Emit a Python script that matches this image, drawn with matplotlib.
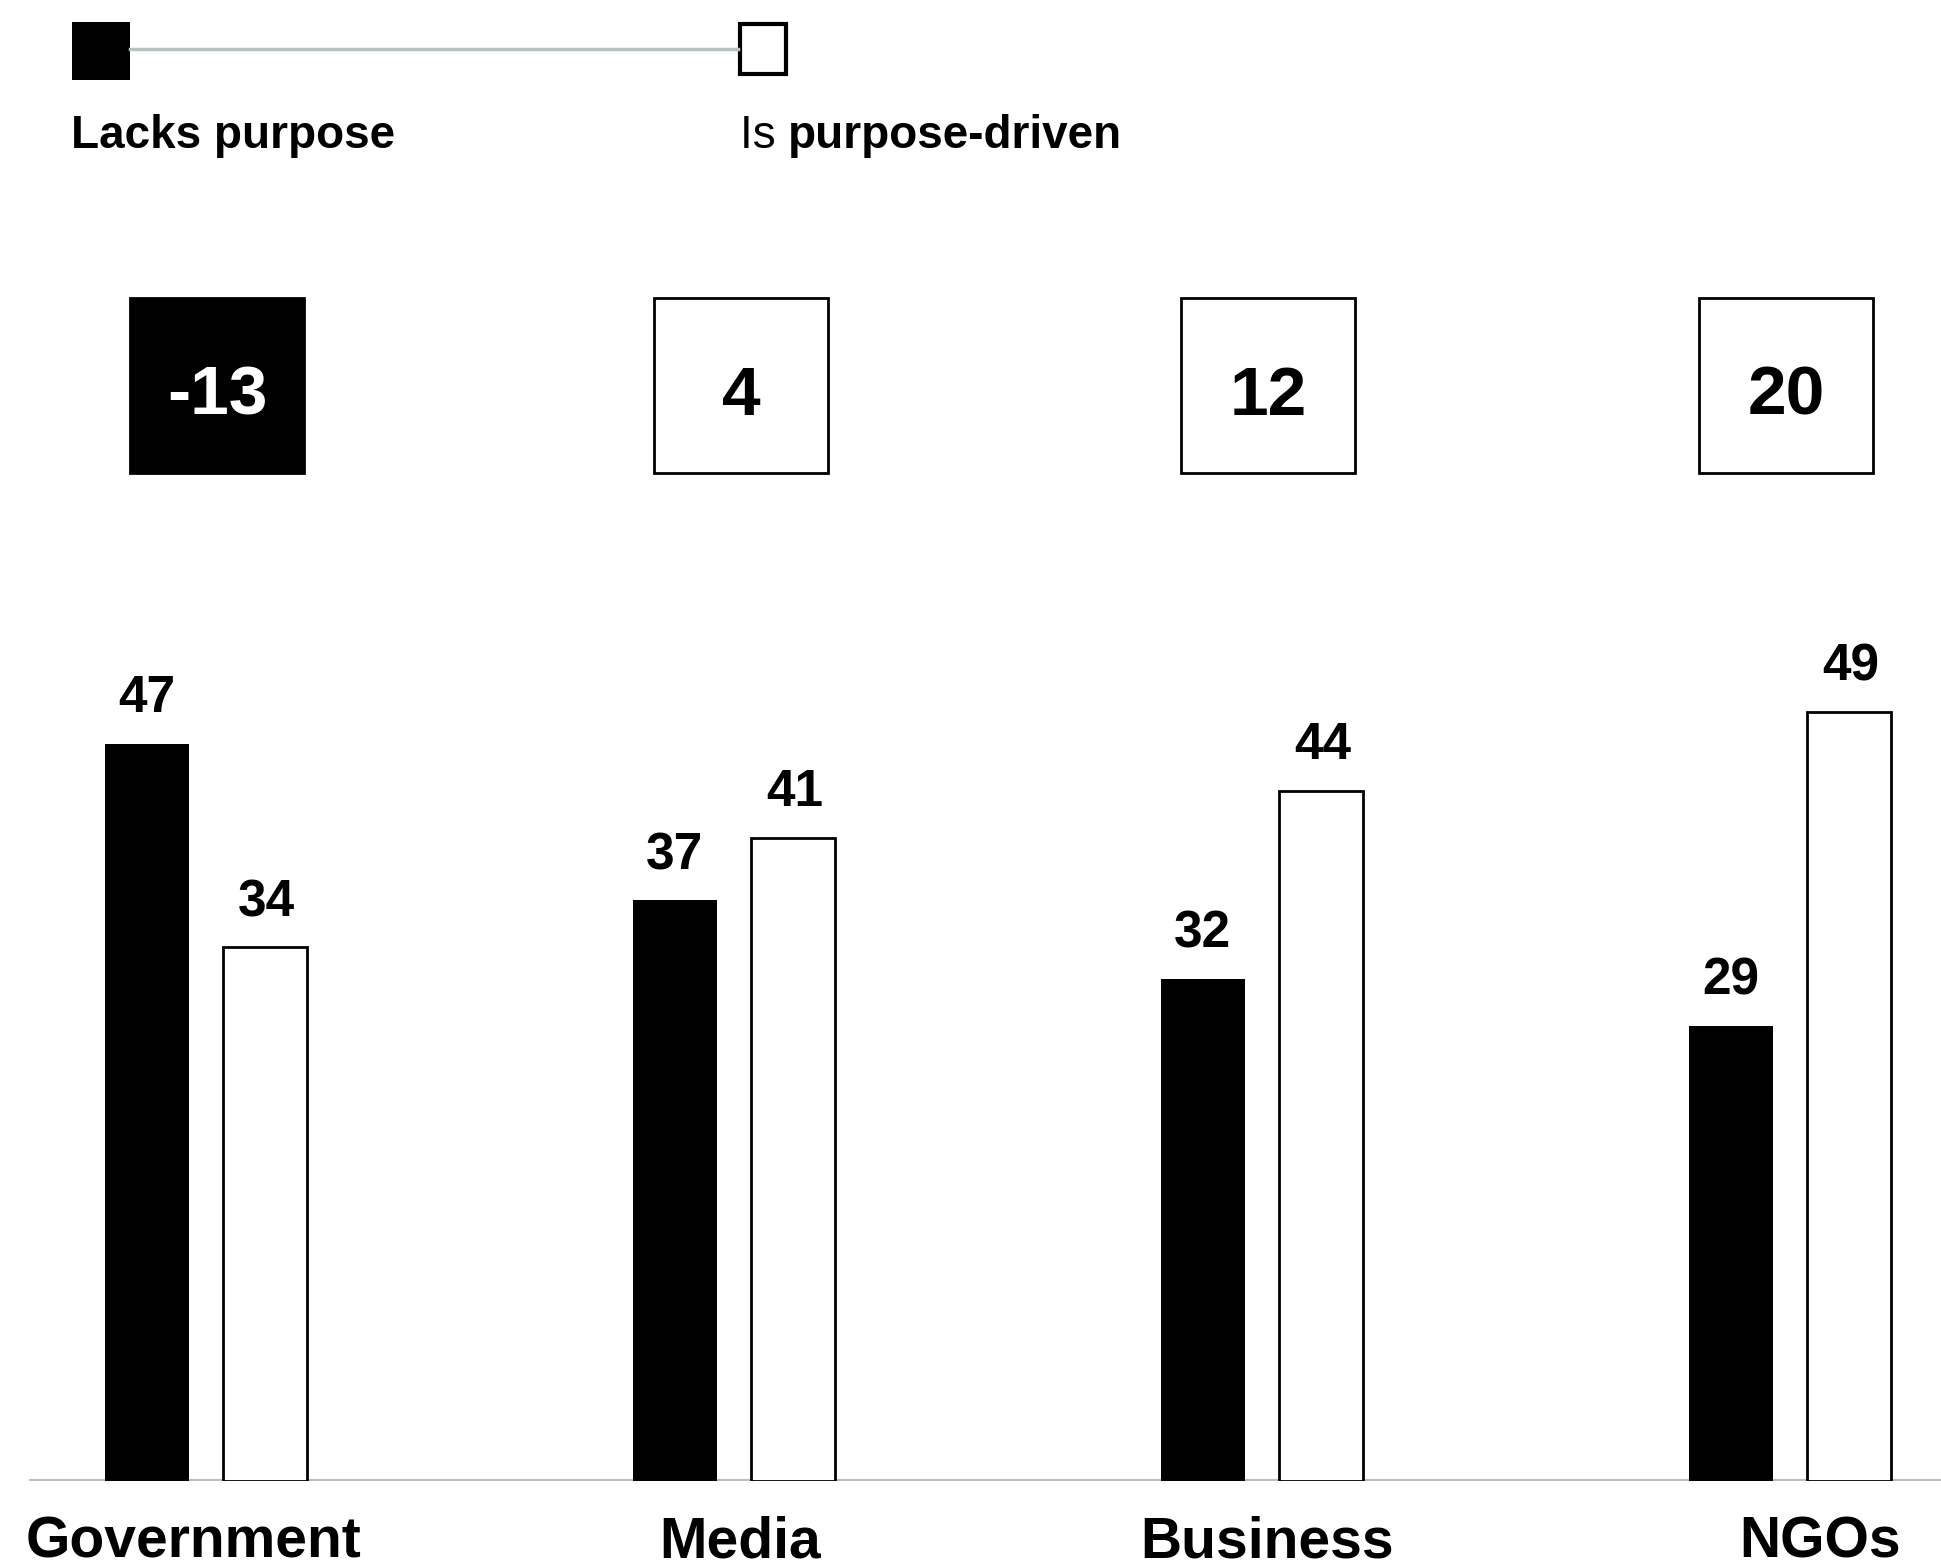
import numpy as np
import matplotlib.pyplot as plt
from matplotlib.patches import Rectangle

plt.rcParams['font.family'] = ['Liberation Sans', 'DejaVu Sans']

# data
categories = ['Government', 'Media', 'Business', 'NGOs']
lacks_purpose = [47, 37, 32, 29]
purpose_driven = [34, 41, 44, 49]
net_diff = [-13, 4, 12, 20]
legend_labels = ['Lacks purpose', 'purpose-driven']

# layout (pixels of a 1941x1567 canvas)
W, H = 1941, 1567
spacing = 528.0          # px between group centres
x0 = 205.5               # px of first group centre
base_px = 1480.5         # px from top of the zero line
unit = 15.68             # px per percentage point

fig = plt.figure(figsize=(W / 100, H / 100), dpi=100)
ax = fig.add_axes([0, (H - base_px) / H, 1, base_px / H])
ax.set_xlim(-x0 / spacing, (W - x0) / spacing)
ax.set_ylim(0, base_px / unit)
ax.axis('off')

x = np.arange(len(categories))
bw = 84 / spacing
off = 59 / spacing

ax.bar(x - off, lacks_purpose, bw, color='black', edgecolor='black', linewidth=0)
ax.bar(x + off, purpose_driven, bw, color='white', edgecolor='black', linewidth=2)

for xi, v in zip(x - off, lacks_purpose):
    ax.annotate(str(v), (xi, v), xytext=(0, 22.5), textcoords='offset points',
                ha='center', va='baseline', fontsize=37, fontweight='bold')
for xi, v in zip(x + off, purpose_driven):
    ax.annotate(str(v), (xi + 2 / spacing, v), xytext=(0, 22.5), textcoords='offset points',
                ha='center', va='baseline', fontsize=37, fontweight='bold')

# zero line
ax.axhline(0, xmin=31 / W, xmax=1, color='#b9c0c0', linewidth=3, zorder=0)

# difference boxes
box_w = 174 / spacing
box_h = 174 / unit
box_y = (base_px - 385.5) / unit
box_dx = [11.5, 7.5, 6.5, -3.5]
for xi, d, dx in zip(x, net_diff, box_dx):
    cx = xi + dx / spacing
    fc = 'black' if d < 0 else 'white'
    tc = 'white' if d < 0 else 'black'
    ax.add_patch(Rectangle((cx - box_w / 2, box_y - box_h / 2), box_w, box_h,
                           facecolor=fc, edgecolor='black', linewidth=2, clip_on=False))
    ax.text(cx, box_y - 29 / unit, str(d), ha='center', va='baseline',
            fontsize=50, fontweight='bold', color=tc)

# category labels
label_x = [193, 740.5, 1267, 1820]
for lx, c in zip(label_x, categories):
    ax.text((lx - x0) / spacing, -(1557 - base_px) / unit, c, ha='center', va='baseline',
            fontsize=41, fontweight='bold', clip_on=False)

# legend
fig.add_artist(plt.Line2D([130 / W, 738 / W], [1 - 49 / H, 1 - 49 / H],
                          color='#b9c0c0', linewidth=2.5))
fig.add_artist(Rectangle((72 / W, 1 - 80 / H), 58 / W, 58 / H, transform=fig.transFigure,
                         facecolor='black', edgecolor='none'))
fig.add_artist(Rectangle((740 / W, 1 - 74 / H), 46 / W, 50 / H, transform=fig.transFigure,
                         facecolor='white', edgecolor='black', linewidth=3))
fig.text(71 / W, 1 - 148 / H, legend_labels[0], fontsize=33, fontweight='bold', va='baseline')
t = fig.text(740 / W, 1 - 148 / H, 'Is ', fontsize=33, va='baseline')
fig.canvas.draw()
bb = t.get_window_extent()
fig.text(bb.x1 / W, 1 - 148 / H, legend_labels[1], fontsize=33, fontweight='bold', va='baseline')

fig.savefig('out.png', dpi=100)
